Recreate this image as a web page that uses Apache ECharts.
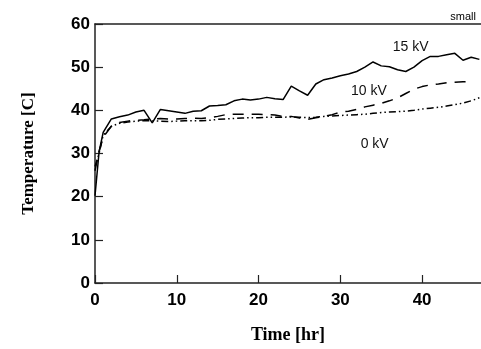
<!DOCTYPE html>
<html>
<head>
<meta charset="utf-8">
<script src="https://cdn.jsdelivr.net/npm/echarts@6/dist/echarts.min.js"></script>
<style>
html,body{margin:0;padding:0;background:#fff;}
#chart{width:481px;height:349px;}
</style>
</head>
<body>
<div id="chart"></div>
<script>
var hours = [0,0.5,1,2,3,4,5,6,7,8,9,10,11,12,13,14,15,16,17,18,19,20,21,22,23,24,25,26,27,28,29,30,31,32,33,34,35,36,37,38,39,40,41,42,43,44,45,46,47];
var kv15 = [20.2,30.4,34.9,38.0,38.5,38.9,39.6,40.0,37.1,40.2,39.9,39.6,39.3,39.8,39.9,41.0,41.1,41.3,42.2,42.6,42.4,42.6,43.0,42.7,42.5,45.6,44.5,43.5,46.1,47.1,47.5,48.0,48.4,49.0,50.0,51.2,50.3,50.1,49.4,49.0,50.0,51.5,52.5,52.5,52.9,53.2,51.6,52.3,51.8];
var kv10 = [26.0,30.5,33.8,36.3,37.2,37.5,37.7,37.8,38.0,38.1,38.0,38.0,38.1,38.2,38.1,38.3,38.6,39.0,39.1,39.1,39.1,39.1,39.0,38.9,38.6,38.6,38.2,37.9,38.3,38.6,39.0,39.6,39.8,40.2,40.8,41.2,41.6,42.2,42.9,43.9,44.9,45.5,45.9,46.1,46.4,46.5,46.6,46.7];
var kv0 = [27.0,30.0,34.2,36.3,37.0,37.3,37.5,37.6,37.6,37.5,37.4,37.5,37.6,37.6,37.6,37.7,37.9,38.0,38.1,38.2,38.3,38.3,38.4,38.4,38.4,38.5,38.4,38.3,38.4,38.6,38.7,38.8,38.9,39.0,39.1,39.3,39.5,39.6,39.7,39.8,40.0,40.3,40.5,40.7,41.0,41.3,41.7,42.2,42.9];
var yTicks = [0,10,20,30,40,50,60];
var xTicks = [0,10,20,30,40];
var seriesNames = ['15 kV','10 kV','0 kV'];
var labelPos = [[38.6,54.6],[33.5,44.5],[34.2,32.2]];

function pairs(vals){ return vals.map(function(v,i){ return [hours[i], v]; }); }

var chart = echarts.init(document.getElementById('chart'), null, {renderer:'canvas'});
var sansBold = {fontFamily:'Liberation Sans, Arial, sans-serif', fontWeight:'bold', fontSize:17, color:'#000'};
var axisLine = {show:true, lineStyle:{color:'#222', width:1.5}};

function annot(i){
  return {
    symbol:'rect',
    symbolSize:1,
    silent:true,
    itemStyle:{color:'rgba(0,0,0,0)'},
    data:[{coord:labelPos[i], value:seriesNames[i]}],
    label:{show:true, position:'inside', formatter:seriesNames[i], fontFamily:'Liberation Sans, Arial, sans-serif', fontSize:14, color:'#111'}
  };
}

chart.setOption({
  animation:false,
  backgroundColor:'#fff',
  grid:{left:95, top:24, width:386, height:262, containLabel:false},
  xAxis:[{
    type:'value', min:0, max:47.2, interval:10,
    name:'Time [hr]', nameLocation:'middle', nameGap:43,
    nameTextStyle:{fontFamily:'Liberation Serif, Times New Roman, serif', fontWeight:'bold', fontSize:18, color:'#000'},
    axisLine:axisLine,
    axisTick:{show:true, inside:true, length:8, lineStyle:{color:'#222', width:1.2}},
    axisLabel:Object.assign({margin:9, showMaxLabel:false, formatter:function(v){ return xTicks.indexOf(v)>=0 ? String(v) : ''; }}, sansBold),
    splitLine:{show:false}
  },{
    type:'value', position:'top', min:0, max:47.2,
    axisLine:axisLine, axisTick:{show:false}, axisLabel:{show:false}, splitLine:{show:false}
  }],
  yAxis:{
    type:'value', min:0, max:60, interval:10,
    name:'Temperature [C]', nameLocation:'middle', nameGap:58, nameRotate:90,
    nameTextStyle:{fontFamily:'Liberation Serif, Times New Roman, serif', fontWeight:'bold', fontSize:17, color:'#000'},
    axisLine:axisLine,
    axisTick:{show:true, inside:true, length:8, lineStyle:{color:'#222', width:1.2}},
    axisLabel:Object.assign({margin:5, formatter:function(v){ return yTicks.indexOf(v)>=0 ? String(v) : ''; }}, sansBold),
    splitLine:{show:false}
  },
  graphic:[{
    type:'text', right:5, top:11,
    style:{text:'small', fontFamily:'Liberation Sans, Arial, sans-serif', fontSize:11, fill:'#000'}
  }],
  series:[
    {name:seriesNames[0], type:'line', data:pairs(kv15), symbol:'none', lineStyle:{color:'#000', width:1.5, type:'solid'}, markPoint:annot(0)},
    {name:seriesNames[1], type:'line', data:pairs(kv10), symbol:'none', lineStyle:{color:'#000', width:1.5, type:[11,8]}, markPoint:annot(1)},
    {name:seriesNames[2], type:'line', data:pairs(kv0), symbol:'none', lineStyle:{color:'#000', width:1.5, type:[7,3,1.5,3,1.5,3]}, markPoint:annot(2)}
  ]
});
</script>
</body>
</html>
